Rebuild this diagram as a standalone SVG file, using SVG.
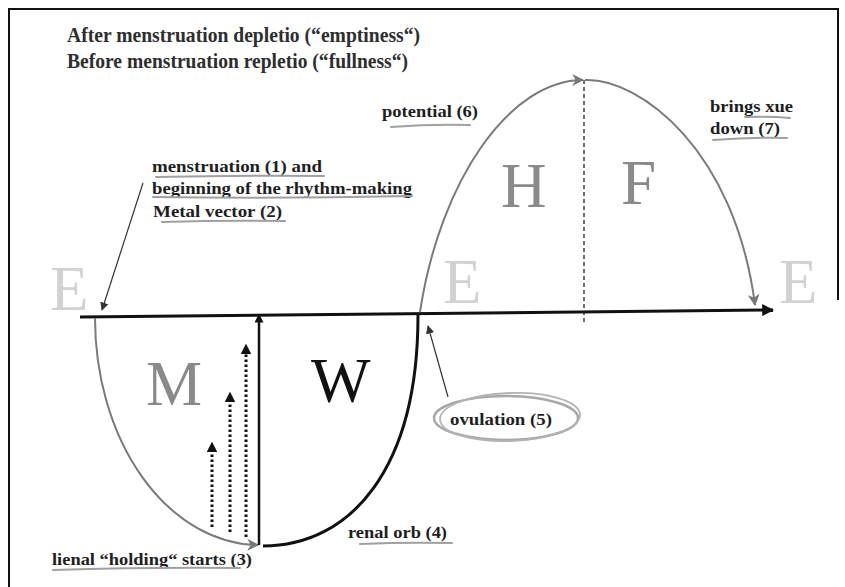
<svg xmlns="http://www.w3.org/2000/svg" width="845" height="587" viewBox="0 0 845 587">
<defs>
<style>
.lbl{font-family:"Liberation Serif","Times New Roman",serif;font-weight:bold;font-size:16px;fill:#1e1e1e}
.ttl{font-family:"Liberation Serif","Times New Roman",serif;font-weight:bold;font-size:21px;fill:#2e2e2e}
.big{font-family:"Liberation Serif","Times New Roman",serif;font-size:63px}
.ul{fill:none;stroke:#a0a0a0;stroke-width:2;stroke-linecap:round}
.gray{fill:none;stroke:#7a7a7a;stroke-width:2}
.dot{fill:none;stroke:#111;stroke-width:3;stroke-dasharray:2.5 2.5}
</style>
<marker id="ahK" viewBox="0 0 10 10" refX="9" refY="5" markerWidth="4" markerHeight="4" orient="auto" markerUnits="strokeWidth"><path d="M0,0L10,5L0,10z" fill="#111"/></marker>
<marker id="ahG" viewBox="0 0 10 10" refX="9" refY="5" markerWidth="6" markerHeight="6" orient="auto" markerUnits="strokeWidth"><path d="M0,0L10,5L0,10L3,5z" fill="#777"/></marker>
<marker id="ahT" viewBox="0 0 10 10" refX="9" refY="5" markerWidth="7" markerHeight="7" orient="auto" markerUnits="strokeWidth"><path d="M0,0L10,5L0,10z" fill="#333"/></marker>
<marker id="ahD" viewBox="0 0 10 10" refX="5" refY="5" markerWidth="3.6" markerHeight="3.6" orient="auto" markerUnits="strokeWidth"><path d="M0,0L10,5L0,10z" fill="#111"/></marker>
</defs>
<rect width="845" height="587" fill="#fff"/>
<g id="frame" fill="none" stroke="#111" stroke-width="2">
<path d="M9,587V9H838V300"/>
</g>
<g id="title">
<text class="ttl" x="67" y="42" textLength="353" lengthAdjust="spacingAndGlyphs">After menstruation depletio (“emptiness“)</text>
<text class="ttl" x="67" y="68" textLength="341" lengthAdjust="spacingAndGlyphs">Before menstruation repletio (“fullness“)</text>
</g>
<g id="letters">
<text class="big" x="50" y="310" fill="#d2d2d2">E</text>
<text class="big" x="443" y="303" fill="#d2d2d2">E</text>
<text class="big" x="779" y="303" fill="#d2d2d2">E</text>
<text class="big" x="501" y="207" fill="#8a8a8a" font-size="65">H</text>
<text class="big" x="621" y="204" fill="#8a8a8a" font-size="65">F</text>
<text class="big" x="146" y="405" fill="#8a8a8a" font-size="60">M</text>
<text class="big" x="311" y="402" fill="#111" font-size="60">W</text>
</g>
<g id="connectors">
<path d="M80,317L773,310" fill="none" stroke="#111" stroke-width="3" marker-end="url(#ahK)"/>
<path d="M584,80V324" fill="none" stroke="#222" stroke-width="1.3" stroke-dasharray="4 3"/>
<path class="gray" d="M95,318A165,227 0 0 0 258,545" marker-end="url(#ahG)"/>
<path d="M263,546C350,546 418,470 418,315" fill="none" stroke="#111" stroke-width="3"/>
<path class="gray" d="M420,312C440,180 510,80 583,80" marker-end="url(#ahG)"/>
<path class="gray" d="M585,80C640,78 735,150 755,305" marker-end="url(#ahG)"/>
<path d="M259,545V318" fill="none" stroke="#111" stroke-width="2.5" marker-end="url(#ahD)"/>
<path class="dot" d="M212,527V447" marker-end="url(#ahD)"/>
<path class="dot" d="M230,532V397" marker-end="url(#ahD)"/>
<path class="dot" d="M246,537V349" marker-end="url(#ahD)"/>
<path d="M143,183L102,310" fill="none" stroke="#333" stroke-width="1.2" marker-end="url(#ahT)"/>
<path d="M448,397L428,326" fill="none" stroke="#333" stroke-width="1.2" marker-end="url(#ahT)"/>
</g>
<g id="label-menstruation">
<text class="lbl" x="152" y="172" textLength="170" lengthAdjust="spacingAndGlyphs">menstruation (1) and</text>
<text class="lbl" x="152" y="194" textLength="260" lengthAdjust="spacingAndGlyphs">beginning of the rhythm-making</text>
<text class="lbl" x="153" y="217" textLength="129" lengthAdjust="spacingAndGlyphs">Metal vector (2)</text>
<path class="ul" d="M156,177Q240,175 324,176"/>
<path class="ul" d="M153,197Q280,199 412,196"/>
<path class="ul" d="M162,222Q225,220 285,221"/>
</g>
<g id="label-potential">
<text class="lbl" x="382" y="117" textLength="96" lengthAdjust="spacingAndGlyphs">potential (6)</text>
<path class="ul" d="M391,127Q430,124 470,125"/>
</g>
<g id="label-brings">
<text class="lbl" x="710" y="112" textLength="83" lengthAdjust="spacingAndGlyphs">brings xue</text>
<text class="lbl" x="710" y="134" textLength="70" lengthAdjust="spacingAndGlyphs">down (7)</text>
<path class="ul" d="M745,117Q770,116 790,118"/>
<path class="ul" d="M713,140Q750,137 787,138"/>
</g>
<g id="label-renal">
<text class="lbl" x="348" y="538" textLength="99" lengthAdjust="spacingAndGlyphs">renal orb (4)</text>
<path class="ul" d="M360,544Q405,542 452,543"/>
</g>
<g id="label-lienal">
<text class="lbl" x="52" y="565" textLength="200" lengthAdjust="spacingAndGlyphs">lienal “holding“ starts (3)</text>
<path class="ul" d="M53,570Q150,567 240,568"/>
</g>
<g id="label-ovulation">
<ellipse cx="506" cy="418" rx="72" ry="22" fill="none" stroke="#a8a8a8" stroke-width="2.5"/>
<ellipse cx="510" cy="417" rx="70" ry="24" fill="none" stroke="#b4b4b4" stroke-width="1.8" transform="rotate(-2 510 417)"/>
<text class="lbl" x="450" y="425" textLength="102" lengthAdjust="spacingAndGlyphs">ovulation (5)</text>
</g>
</svg>
